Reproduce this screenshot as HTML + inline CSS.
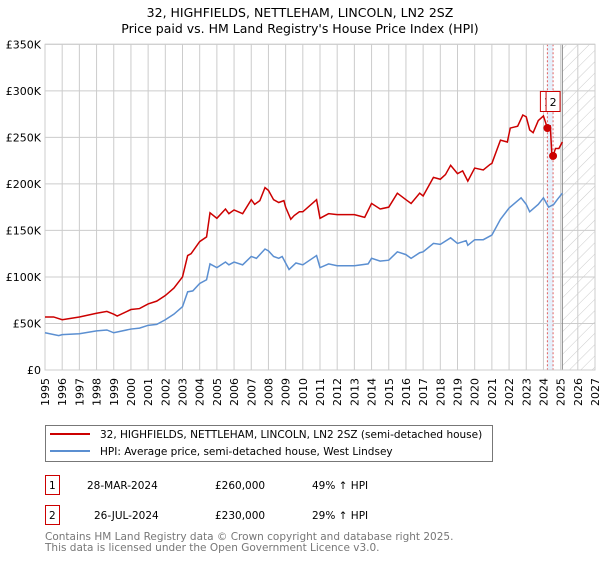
<!DOCTYPE html>
<html><head><meta charset="utf-8"><style>
body{margin:0;background:#fff;font-family:"DejaVu Sans","Liberation Sans",sans-serif;}
svg text{font-family:"DejaVu Sans","Liberation Sans",sans-serif;}
</style></head><body>
<svg id="chart" width="600" height="560" xmlns="http://www.w3.org/2000/svg">
<defs><pattern id="hatch" patternUnits="userSpaceOnUse" width="8" height="8" patternTransform="rotate(45)"><line x1="0" y1="0" x2="0" y2="8" stroke="#ccc" stroke-width="1"/></pattern></defs>
<text x="300" y="17" text-anchor="middle" font-size="12.5">32, HIGHFIELDS, NETTLEHAM, LINCOLN, LN2 2SZ</text>
<text x="300" y="33" text-anchor="middle" font-size="12.5">Price paid vs. HM Land Registry's House Price Index (HPI)</text>
<g id="grid"></g><g id="marks"></g><g id="axes"></g>
<g>
<rect x="45.5" y="425.5" width="447" height="36" fill="#fff" stroke="#777"/>
<line x1="50" y1="434" x2="90" y2="434" stroke="#cc0000" stroke-width="2"/>
<text x="100" y="438" font-size="10.5">32, HIGHFIELDS, NETTLEHAM, LINCOLN, LN2 2SZ (semi-detached house)</text>
<line x1="50" y1="451" x2="90" y2="451" stroke="#5b8fd1" stroke-width="2"/>
<text x="100" y="455" font-size="10.5">HPI: Average price, semi-detached house, West Lindsey</text>
</g>
<g font-size="10.5">
<rect x="45.5" y="475.5" width="14" height="19" fill="none" stroke="#cc0000"/>
<text x="49" y="489">1</text><text x="87" y="489">28-MAR-2024</text><text x="215" y="489">£260,000</text><text x="312" y="489">49% ↑ HPI</text>
</g>
<g font-size="10.5">
<rect x="45.5" y="505.5" width="14" height="19" fill="none" stroke="#cc0000"/>
<text x="49" y="519">2</text><text x="94" y="519">26-JUL-2024</text><text x="215" y="519">£230,000</text><text x="312" y="519">29% ↑ HPI</text>
</g>
<text x="45" y="540" font-size="10.5" fill="#777">Contains HM Land Registry data © Crown copyright and database right 2025.</text>
<text x="45" y="551" font-size="10.5" fill="#777">This data is licensed under the Open Government Licence v3.0.</text>
</svg>
<script>
const yTicks=[0,50,100,150,200,250,300,350];
const yTickLabels=["£0","£50K","£100K","£150K","£200K","£250K","£300K","£350K"];
const xYears=[1995,1996,1997,1998,1999,2000,2001,2002,2003,2004,2005,2006,2007,2008,2009,2010,2011,2012,2013,2014,2015,2016,2017,2018,2019,2020,2021,2022,2023,2024,2025,2026,2027];
const redT=[1995,1995.5,1996,1997,1998,1998.6,1999,1999.2,2000,2000.5,2001,2001.5,2002,2002.5,2003,2003.3,2003.5,2004,2004.4,2004.6,2005,2005.5,2005.7,2006,2006.5,2007,2007.2,2007.5,2007.8,2008,2008.3,2008.6,2008.9,2009,2009.3,2009.5,2009.8,2010,2010.8,2011,2011.5,2012,2013,2013.6,2014,2014.5,2015,2015.5,2016,2016.3,2016.8,2017,2017.6,2018,2018.3,2018.6,2019,2019.3,2019.6,2020,2020.5,2020.9,2021,2021.5,2021.9,2022.07,2022.5,2022.8,2023,2023.2,2023.4,2023.7,2024,2024.23,2024.4,2024.5,2024.56,2024.7,2024.9,2025.1];
const redV=[57,57,54,57,61,63,60,58,65,66,71,74,80,88,100,123,125,138,143,169,163,173,168,172,168,183,178,182,196,193,183,180,182,175,162,166,170,170,183,163,168,167,167,164,179,173,175,190,183,179,190,187,207,205,210,220,211,214,203,217,215,221,222,247,245,260,262,274,272,258,255,268,273,260,262,228,230,238,238,245];
const blueT=[1995,1995.8,1996,1997,1998,1998.6,1999,2000,2000.5,2001,2001.5,2002,2002.5,2003,2003.3,2003.6,2004,2004.4,2004.6,2005,2005.5,2005.7,2006,2006.5,2007,2007.3,2007.8,2008,2008.3,2008.6,2008.8,2009.2,2009.6,2010,2010.8,2011,2011.5,2012,2013,2013.8,2014,2014.5,2015,2015.5,2016,2016.3,2016.8,2017,2017.6,2018,2018.6,2019,2019.5,2019.6,2020,2020.5,2021,2021.5,2022,2022.7,2023,2023.2,2023.7,2024,2024.3,2024.6,2024.8,2025.1];
const blueV=[40,37,38,39,42,43,40,44,45,48,49,54,60,68,84,85,93,97,114,110,116,113,116,113,122,120,130,128,122,120,122,108,115,113,123,110,114,112,112,114,120,117,118,127,124,120,126,127,136,135,142,136,139,134,140,140,145,162,174,185,178,170,178,185,175,178,183,190];
const saleT=[2024.23,2024.56];
const saleV=[260,230];
const saleLabels=["1","2"];
const dataEnd=2025.1;
const X0=45,X1=595,Y0=370,Y1=44.3,xMin=1995,xMax=2027,yMax=350;
const xs=t=>X0+(t-xMin)/(xMax-xMin)*(X1-X0);
const ys=v=>Y0-v/yMax*(Y0-Y1);
const NS="http://www.w3.org/2000/svg";
function mk(tag,attrs,parent){const e=document.createElementNS(NS,tag);for(const k in attrs)e.setAttribute(k,attrs[k]);parent.appendChild(e);return e;}
const grid=document.getElementById('grid'),marks=document.getElementById('marks'),axes=document.getElementById('axes');
let r=mk('rect',{x:xs(dataEnd),y:Y1,width:X1-xs(dataEnd),height:Y0-Y1,fill:'url(#hatch)'},grid);


xYears.forEach(y=>{const l=mk('line',{x1:xs(y),x2:xs(y),y1:Y1,y2:Y0,stroke:'#ccc'},grid);


const t=mk('text',{x:0,y:0,'font-size':'11','text-anchor':'end',transform:`translate(${xs(y)+4},${Y0+8}) rotate(-90)`},axes);


t.textContent=y;});
yTicks.forEach((v,i)=>{const l=mk('line',{x1:X0,x2:X1,y1:ys(v),y2:ys(v),stroke:'#ccc'},grid);


const t=mk('text',{x:X0-4,y:ys(v)+4,'font-size':'11','text-anchor':'end'},axes);


t.textContent=yTickLabels[i];});
const band=mk('rect',{x:xs(saleT[0]),y:Y1,width:xs(saleT[1])-xs(saleT[0]),height:Y0-Y1,fill:'#e6f0fb'},grid);


saleT.forEach(t=>{const l=mk('line',{x1:xs(t),x2:xs(t),y1:Y1,y2:Y0,stroke:'#e06060','stroke-dasharray':'2,2'},grid);

});
const dl=mk('line',{x1:xs(dataEnd),x2:xs(dataEnd),y1:Y1,y2:Y0,stroke:'#888'},grid);


const fr=mk('rect',{x:X0,y:Y1,width:X1-X0,height:Y0-Y1,fill:'none',stroke:'#ccc'},grid);


const bp=mk('polyline',{points:blueT.map((t,i)=>xs(t)+','+ys(blueV[i])).join(' '),fill:'none',stroke:'#5b8fd1','stroke-width':1.5},marks);


const rp=mk('polyline',{points:redT.map((t,i)=>xs(t)+','+ys(redV[i])).join(' '),fill:'none',stroke:'#cc0000','stroke-width':1.5},marks);


saleT.forEach((t,i)=>{const c=mk('circle',{cx:xs(t),cy:ys(saleV[i]),r:4,fill:'#cc0000'},marks);

});
saleT.forEach((t,i)=>{const g=mk('g',{},marks);


mk('rect',{x:xs(t)-7,y:91.5,width:14,height:20,fill:'#fff',stroke:'#cc0000'},g);
const tx=mk('text',{x:xs(t),y:106,'font-size':'11','text-anchor':'middle'},g);tx.textContent=saleLabels[i];});
</script>
</body></html>
